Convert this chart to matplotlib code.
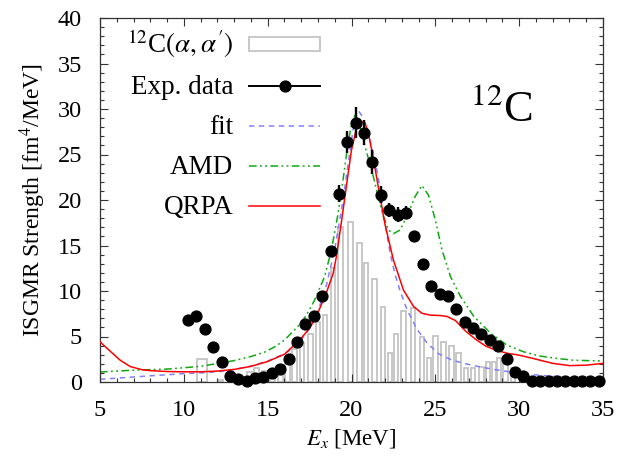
import matplotlib
matplotlib.use("Agg")
import matplotlib.pyplot as plt
from matplotlib.lines import Line2D
from matplotlib.patches import Rectangle

plt.rcParams['font.family'] = ['Liberation Serif', 'DejaVu Serif']
plt.rcParams['mathtext.fontset'] = 'stix'

# ---------------- data ----------------
# 12C(alpha,alpha') histogram
hist_x = [11.08, 12.2, 13.45, 13.92, 14.35, 14.81, 15.3, 15.75, 16.18, 16.6,
          17.05, 17.55, 18.0, 18.42, 18.9, 19.34, 19.94, 20.47, 20.86, 21.37,
          21.88, 22.29, 22.65, 23.1, 23.66, 24.2, 24.62, 25.03, 25.48, 25.96,
          26.38, 26.82, 27.24, 27.75, 28.14, 28.5, 28.8, 29.18, 29.63]
hist_y = [2.5, 0.25, 0.4, 1.1, 1.5, 1.2, 0.5, 0.9, 2.8, 3.6,
          4.3, 5.3, 6.6, 7.4, 12.5, 17.0, 17.6, 15.3, 13.1, 11.3,
          8.2, 3.2, 5.3, 7.8, 8.1, 5.0, 2.6, 5.1, 4.4, 4.0,
          3.2, 1.5, 1.5, 1.7, 2.2, 2.2, 2.6, 2.0, 1.5]
hist_w = [0.6] + [0.28] * (len(hist_x) - 1)

# Experimental data
exp_x = [10.25, 10.75, 11.25, 11.75, 12.25, 12.75, 13.25, 13.75, 14.25, 14.75,
         15.25, 15.75, 16.25, 16.75, 17.25, 17.75, 18.25, 18.75, 19.25, 19.75,
         20.25, 20.75, 21.25, 21.75, 22.25, 22.75, 23.25, 23.75, 24.25, 24.75,
         25.25, 25.75, 26.25, 26.75, 27.25, 27.75, 28.25, 28.75, 29.25, 29.75,
         30.25, 30.75, 31.25, 31.75, 32.25, 32.75, 33.25, 33.75, 34.25, 34.75]
exp_y = [6.8, 7.3, 5.8, 3.8, 2.2, 0.7, 0.33, 0.15, 0.4, 0.55,
         0.95, 1.45, 2.5, 4.45, 6.4, 7.25, 9.4, 14.35, 20.7, 26.4,
         28.5, 27.4, 24.2, 20.6, 18.9, 18.4, 18.6, 16.0, 13.0, 10.6,
         9.7, 9.4, 8.0, 6.6, 5.9, 5.25, 4.6, 3.95, 2.55, 1.1,
         0.7, 0.1, 0.1, 0.1, 0.1, 0.1, 0.1, 0.1, 0.1, 0.1]
exp_err = [0.3, 0.3, 0.3, 0.3, 0.3, 0.3, 0.3, 0.3, 0.3, 0.3,
           0.3, 0.3, 0.3, 0.3, 0.3, 0.3, 0.4, 0.6, 0.9, 1.2,
           1.7, 1.4, 1.3, 0.9, 0.8, 0.8, 0.7, 0.6, 0.5, 0.3,
           0.3, 0.3, 0.3, 0.3, 0.3, 0.3, 0.3, 0.3, 0.3, 0.3,
           0.3, 0.2, 0.2, 0.2, 0.2, 0.2, 0.2, 0.2, 0.2, 0.2]

# fit curve
fit_x = [5, 6, 7, 8, 9, 10, 11, 12, 13, 14, 15, 16, 16.5, 17, 17.5, 18, 18.5,
         19, 19.5, 19.8, 20.1, 20.3, 20.46, 20.7, 21.0, 21.4, 21.7, 22.0, 22.3,
         22.6, 22.9, 23.3, 23.9, 24.5, 25.2, 26.0, 26.8, 27.7, 28.6, 29.5,
         30.5, 31.5, 32.5, 33.5, 35]
fit_y = [0.3, 0.42, 0.55, 0.68, 0.8, 0.92, 1.0, 1.12, 1.38, 1.75, 2.3, 3.1, 3.7,
         4.6, 5.9, 7.8, 10.6, 14.6, 20.0, 24.0, 27.8, 29.3, 29.7, 29.0, 27.2,
         24.5, 21.3, 17.4, 14.2, 11.8, 10.0, 8.0, 5.8, 4.3, 3.1, 2.4, 2.0, 1.65,
         1.35, 1.1, 0.85, 0.7, 0.58, 0.48, 0.38]

# AMD curve
amd_x = [5, 7, 9, 11, 13, 14, 14.84, 15.5, 16, 16.8, 17.3, 17.8, 18.4, 18.8,
         19.2, 19.5, 19.8, 20.0, 20.2, 20.4, 20.7, 21.0, 21.3, 21.6, 21.9,
         22.2, 22.5, 22.9, 23.3, 23.8, 24.2, 24.6, 25.0, 25.4, 25.9, 26.5,
         27.3, 28.3, 29.25, 30.25, 31.2, 32.2, 33.2, 35]
amd_y = [1.1, 1.3, 1.42, 1.72, 2.35, 2.8, 3.3, 3.95, 4.6, 6.1, 7.3, 9.0, 11.6,
         14.5, 18.5, 22.3, 26.3, 28.3, 29.3, 28.9, 26.6, 24.6, 22.6, 20.3, 18.2,
         16.7, 16.3, 16.7, 18.2, 20.4, 21.6, 20.5, 17.8, 14.5, 11.6, 9.4,
         7.2, 5.35, 4.07, 3.33, 2.86, 2.6, 2.4, 2.3]

# QRPA curve
qrpa_x = [5, 5.6, 6.2, 6.8, 7.5, 8, 9, 10, 11, 12, 13, 14, 15, 16, 16.9, 17.5,
          17.9, 18.5, 18.9, 19.1, 19.4, 19.7, 20.0, 20.3, 20.6, 20.8, 21.0,
          21.3, 21.6, 22.0, 22.5, 23.1, 23.7, 24.2, 24.7, 25.3, 25.7, 26.2,
          26.8, 27.4, 28.0, 28.6, 29.3, 30.0, 30.8, 32.0, 33.0, 34.0, 35.0]
qrpa_y = [4.4, 3.4, 2.4, 1.7, 1.35, 1.25, 1.15, 1.12, 1.12, 1.2, 1.38, 1.72, 2.25,
          3.05, 4.6, 5.9, 7.2, 9.8, 11.9, 13.8, 17.6, 21.6, 25.5, 27.9, 28.6,
          28.5, 27.4, 24.6, 21.4, 17.3, 13.4, 10.1, 8.3, 7.55, 7.35, 7.3, 7.2,
          6.75, 5.6, 4.7, 3.95, 3.5, 3.15, 2.95, 2.6, 2.05, 1.8, 1.85, 2.05]

# ---------------- plot ----------------
fig = plt.figure(figsize=(6.18, 4.57), dpi=100)
ax = fig.add_axes([100 / 618, 75 / 457, 503 / 618, 364 / 457])

hist_color = '#c4c4c4'
ax.bar(hist_x, hist_y, width=hist_w, facecolor='none', edgecolor=hist_color,
       linewidth=1.3, zorder=1)

fit_color = '#8080ff'
amd_color = '#10a810'
qrpa_color = '#ff0000'
fit_dash = (3.5, 3.0)
amd_dash = (5.0, 2.2, 1.2, 2.2, 1.2, 2.2)

ax.plot(fit_x, fit_y, color=fit_color, lw=1.1, dashes=fit_dash, zorder=2)
ax.plot(amd_x, amd_y, color=amd_color, lw=1.1, dashes=amd_dash, zorder=2)
ax.plot(qrpa_x, qrpa_y, color=qrpa_color, lw=1.1, zorder=3)

ax.errorbar(exp_x, exp_y, yerr=exp_err, fmt='o', color='black', ms=7.8,
            elinewidth=1.7, capsize=0, zorder=4, clip_on=False)

ax.set_xlim(5, 35)
ax.set_ylim(0, 40)
ax.set_xticks([5, 10, 15, 20, 25, 30, 35])
ax.set_yticks([0, 5, 10, 15, 20, 25, 30, 35, 40])
ax.set_xticks(range(5, 36), minor=True)
ax.set_yticks(range(0, 41), minor=True)
ax.tick_params(which='both', direction='in', top=True, right=True,
               labelsize=17.5, width=0.8, colors='#333333', labelcolor='black')
ax.tick_params(which='major', length=6)
ax.tick_params(axis='x', which='major', pad=13)
ax.tick_params(axis='y', which='major', pad=13)
ax.tick_params(which='minor', length=3)
for s in ax.spines.values():
    s.set_linewidth(0.9)
    s.set_color('#333333')

ax.set_xlabel(r'$E_x$ [MeV]', fontsize=16.5, labelpad=4)
ax.set_ylabel(r'ISGMR Strength [fm$^4$/MeV]', fontsize=17, labelpad=7)

ax.text(0.735, 0.717, r'$^{12}$C', transform=ax.transAxes, fontsize=32,
        ha='left', va='baseline')

handles = [
    Rectangle((0, 0), 1, 1, facecolor='none', edgecolor=hist_color, lw=1.3),
    Line2D([], [], color='black', marker='o', ms=7.8, lw=1.4),
    Line2D([], [], color=fit_color, lw=1.1, dashes=fit_dash),
    Line2D([], [], color=amd_color, lw=1.1, dashes=amd_dash),
    Line2D([], [], color=qrpa_color, lw=1.1),
]
labels = [r"$^{12}$C$(\alpha,\alpha')$", 'Exp. data', 'fit', 'AMD', 'QRPA']
leg = ax.legend(handles, labels, loc='upper right', bbox_to_anchor=(0.437, 0.973),
                frameon=False, markerfirst=False, fontsize=19.5,
                borderpad=0.0, borderaxespad=0.0,
                handlelength=2.6, handleheight=0.42, handletextpad=0.6,
                labelspacing=0.55)

fig.savefig('out.png', dpi=100)
